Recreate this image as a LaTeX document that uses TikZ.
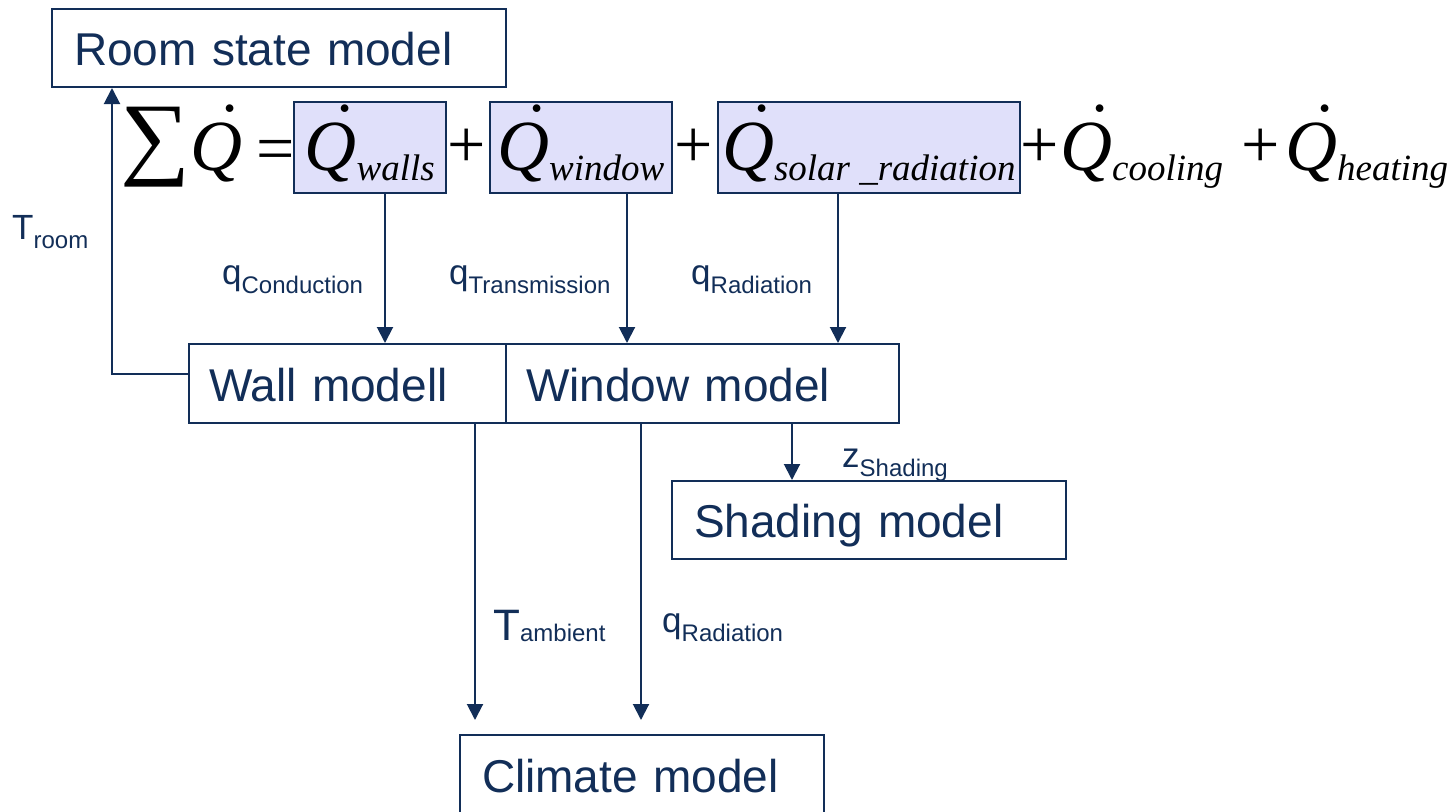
\documentclass[tikz,border=0pt]{standalone}
\usepackage{fontspec}
\usepackage{graphicx}
\setmainfont{Liberation Sans}
\newfontfamily\eqfont{Liberation Serif}
\usetikzlibrary{arrows.meta}

\definecolor{navy}{RGB}{18,46,88}
\definecolor{lavender}{RGB}{224,224,250}

% fonts
\newcommand\modelfont{\fontsize{46}{50}\selectfont}
\newcommand\labelfont{\fontsize{35}{40}\selectfont}
\newcommand\subfont{\fontsize{24}{24}\selectfont}
% signal label with lowered index
\newcommand\sig[2]{#1\raisebox{-9pt}{\subfont #2}}
% Q with a dot above (heat flow)
\newcommand\Qdot{\makebox[0pt][l]{\hspace{0.33em}\raisebox{0.25em}{\symbol{"02D9}}}Q}
\newcommand\Qterm[1]{{\eqfont\itshape\fontsize{72}{72}\selectfont\Qdot}\raisebox{-10pt}{\eqfont\itshape\fontsize{37}{37}\selectfont #1}}

\tikzset{
  modelbox/.style={draw=navy, line width=2pt, rectangle, anchor=north west,
    inner ysep=0pt, align=left, text=navy, font=\modelfont,
    text height=35pt, text depth=0pt},
  termbox/.style={draw=navy, line width=1.6pt, fill=lavender, rectangle,
    anchor=north west, inner sep=0pt, text height=47pt, text depth=0pt},
  eqsym/.style={inner sep=0pt, font=\eqfont\fontsize{68}{68}\selectfont},
  sigtext/.style={inner sep=0pt, anchor=base west, text=navy, font=\labelfont},
  flow/.style={draw=navy, line width=2pt, -{Triangle[width=16pt,length=16pt]}},
}

\begin{document}
\begin{tikzpicture}[x=1pt,y=-1pt]
\useasboundingbox (0,0) rectangle (1456,811);

% model blocks
\node[modelbox, minimum width=454pt, minimum height=78pt, inner xsep=22pt, text width=410pt] (room) at (51,8) {Room state model};
\node[modelbox, minimum width=317pt, minimum height=79pt, inner xsep=20pt, text width=277pt] (wall) at (188,343) {Wall modell};
\node[modelbox, minimum width=393pt, minimum height=79pt, inner xsep=20pt, text width=353pt] (win) at (505,343) {Window model};
\node[modelbox, minimum width=394pt, minimum height=78pt, inner xsep=22pt, text width=350pt] (shade) at (671,480) {Shading model};
\node[modelbox, minimum width=364pt, minimum height=80pt, inner xsep=22pt, text width=320pt] (clim) at (459,734) {Climate model};

% heat balance
\node[eqsym, anchor=center] (sum) at (155,147) {\resizebox*{70pt}{80pt}{∑}};
\node[inner sep=0pt, anchor=base west] (qsum) at (190,170) {\eqfont\itshape\fontsize{72}{72}\selectfont\Qdot};
\node[eqsym, anchor=center] (eq) at (275.5,156) {=};
\node[termbox, minimum width=152pt, minimum height=91pt] (qw) at (293,101) {\Qterm{walls}\hspace{10pt}};
\node[eqsym, anchor=center] (p1) at (467,148) {+};
\node[termbox, minimum width=182pt, minimum height=91pt] (qwin) at (489,101) {\Qterm{window}\hspace{10pt}};
\node[eqsym, anchor=center] (p2) at (694,148) {+};
\node[termbox, minimum width=302pt, minimum height=91pt] (qsol) at (717,101) {\Qterm{solar \_radiation}\hspace{10pt}};
\node[eqsym, anchor=center] (p3) at (1040,148) {+};
\node[inner sep=0pt, anchor=base west] (qcool) at (1060,170) {\Qterm{cooling}};
\node[eqsym, anchor=center] (p4) at (1261,148) {+};
\node[inner sep=0pt, anchor=base west] (qheat) at (1285,170) {\Qterm{heating}};

% arrow columns
\coordinate (xroom) at (112,0);
\coordinate (xcond) at (385,0);
\coordinate (xtrans) at (627,0);
\coordinate (xrad) at (838,0);
\coordinate (xshade) at (792,0);
\coordinate (amb) at (475,720);
\coordinate (radin) at (641,720);

% connectors
\draw[flow] ([yshift=9.5pt]wall.west) -| (room.south -| xroom);
\draw[flow] (qw.south -| xcond) -- (wall.north -| xcond);
\draw[flow] (qwin.south -| xtrans) -- (win.north -| xtrans);
\draw[flow] (qsol.south -| xrad) -- (win.north -| xrad);
\draw[flow] (win.south -| xshade) -- (shade.north -| xshade);
\draw[flow] (wall.south -| amb) -- (amb);
\draw[flow] (win.south -| radin) -- (radin);

% signal labels
\node[sigtext] (troom) at (12,239) {\sig{T}{room}};
\node[sigtext] (qcond) at (222,284) {\sig{q}{Conduction}};
\node[sigtext] (qtrans) at (449,284) {\sig{q}{Transmission}};
\node[sigtext] (qrad) at (691,284) {\sig{q}{Radiation}};
\node[sigtext] (zsh) at (842,467) {\sig{z}{Shading}};
\node[sigtext] (tamb) at (493,640) {{\fontsize{44}{44}\selectfont T}\raisebox{-1pt}{\subfont ambient}};
\node[sigtext] (qrad2) at (662,632) {\sig{q}{Radiation}};
\end{tikzpicture}
\end{document}
